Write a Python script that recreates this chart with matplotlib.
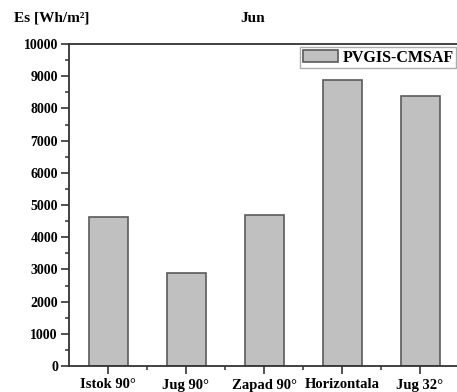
import matplotlib
matplotlib.use("Agg")
import matplotlib.pyplot as plt
from matplotlib.ticker import MultipleLocator

plt.rcParams['font.family'] = ['Liberation Serif', 'DejaVu Serif']
plt.rcParams['font.weight'] = 'bold'

# data
categories = ["Istok 90°", "Jug 90°", "Zapad 90°", "Horizontala", "Jug 32°"]
values = [4630, 2890, 4690, 8880, 8370]
series_name = "PVGIS-CMSAF"

fig = plt.figure(figsize=(4.57, 3.92), dpi=100)
ax = fig.add_axes([69 / 457, 26 / 392, 390 / 457, 322 / 392])

x = list(range(1, len(categories) + 1))
ax.bar(x, values, width=0.5, color='#c0c0c0', edgecolor='#5a5a5a',
       linewidth=1.2, label=series_name)

ax.set_xlim(0.5, len(categories) + 0.5)
ax.set_ylim(0, 10000)
ax.set_xticks(x)
ax.set_xticklabels(categories, fontsize=10.5, fontweight='bold')
ax.set_xticks([i + 0.5 for i in x[:-1]], minor=True)
ax.yaxis.set_major_locator(MultipleLocator(1000))
ax.yaxis.set_minor_locator(MultipleLocator(500))
for lbl in ax.get_yticklabels():
    lbl.set_fontsize(10)
    lbl.set_fontweight('bold')

for s in ax.spines.values():
    s.set_linewidth(1.3)
    s.set_color('#333333')
ax.tick_params(which='major', direction='out', length=6, width=1.2, color='#333333', pad=2)
ax.tick_params(which='minor', direction='out', length=3, width=1.1, color='#333333')
ax.tick_params(axis='x', which='major', pad=3)

leg = ax.legend(loc='upper right', bbox_to_anchor=((456 - 69) / 390, 0.99),
                fancybox=False, edgecolor='#999999',
                borderpad=0.15, handlelength=2.2, handleheight=0.8,
                handletextpad=0.3, borderaxespad=0.0,
                prop={'weight': 'bold', 'size': 11.5})
leg.get_frame().set_linewidth(1.0)

fig.text(14 / 457, 1 - 18 / 392, "Es [Wh/m²]", fontsize=11, fontweight='bold',
         va='center', ha='left')
fig.text(253 / 457, 1 - 18 / 392, "Jun", fontsize=11, fontweight='bold',
         va='center', ha='center')

fig.savefig("out.png", dpi=100)
